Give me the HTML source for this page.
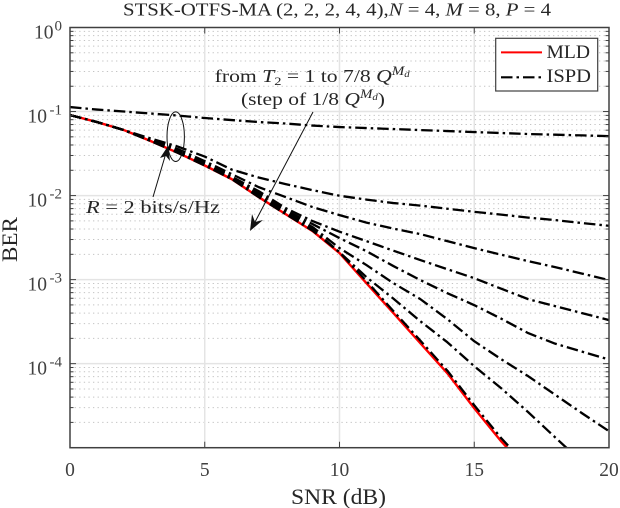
<!DOCTYPE html>
<html>
<head>
<meta charset="utf-8">
<title>STSK-OTFS-MA BER chart</title>
<style>
html,body{margin:0;padding:0;background:#fff;}
svg{display:block;font-family:"Liberation Serif",serif;}
text{fill:#262626;}
.tick{fill:#404040;font-size:19.5px;}
.it{font-style:italic;}
</style>
</head>
<body>
<svg id="chart" width="620" height="508" viewBox="0 0 620 508" xmlns="http://www.w3.org/2000/svg">
  <defs>
    <clipPath id="plot-clip"><rect x="70" y="27.5" width="539" height="420.2"></rect></clipPath>
  </defs>
  <rect x="0" y="0" width="620" height="508" fill="#fff"></rect>
  <g id="grid"></g>
  <g id="series" clip-path="url(#plot-clip)"></g>
  <g id="axes"></g>

  <text x="123" y="15.5" font-size="17.5" textLength="428" lengthAdjust="spacingAndGlyphs">STSK-OTFS-MA (2, 2, 2, 4, 4),<tspan class="it">N</tspan> = 4, <tspan class="it">M</tspan> = 8, <tspan class="it">P</tspan> = 4</text>
  <text x="291" y="504" font-size="22" textLength="95" lengthAdjust="spacingAndGlyphs">SNR (dB)</text>
  <text transform="translate(17 262) rotate(-90)" font-size="22" textLength="45" lengthAdjust="spacingAndGlyphs">BER</text>

  <ellipse cx="175.7" cy="136.7" rx="8.7" ry="24.8" fill="none" stroke="#111" stroke-width="1"></ellipse>
  <line x1="313" y1="112" x2="254" y2="224" stroke="#111" stroke-width="1"></line>
  <path d="M250 231 L252 214 L255 222 L263 220 Z" fill="#111"></path>
  <line x1="153" y1="197" x2="166" y2="153" stroke="#111" stroke-width="1"></line>
  <path d="M168 146 L170 161 L166 156 L160 158 Z" fill="#111"></path>

  <text x="214.7" y="82" font-size="18" textLength="195" lengthAdjust="spacingAndGlyphs">from <tspan class="it">T</tspan><tspan font-size="12" dy="3">2</tspan><tspan dy="-3"> = 1 to 7/8 </tspan><tspan class="it">Q</tspan><tspan class="it" font-size="12.5" dy="-7">M</tspan><tspan class="it" font-size="9" dy="2">d</tspan></text>
  <text x="241" y="105" font-size="18" textLength="144" lengthAdjust="spacingAndGlyphs">(step of 1/8 <tspan class="it">Q</tspan><tspan class="it" font-size="12.5" dy="-7">M</tspan><tspan class="it" font-size="9" dy="2">d</tspan><tspan dy="5">)</tspan></text>
  <text x="86" y="213" font-size="18" textLength="134" lengthAdjust="spacingAndGlyphs"><tspan class="it">R</tspan> = 2 bits/s/Hz</text>

  <g>
    <rect x="495.7" y="38.3" width="102" height="52.7" fill="#fff" stroke="#404040" stroke-width="1.2"></rect>
    <line x1="501" y1="52.4" x2="542" y2="52.4" stroke="#f00" stroke-width="2"></line>
    <text x="546.5" y="58" font-size="19" textLength="43.5" lengthAdjust="spacingAndGlyphs">MLD</text>
    <line x1="501" y1="77.3" x2="542" y2="77.3" stroke="#000" stroke-width="2.2" stroke-dasharray="11.5 4 2.5 4"></line>
    <text x="546.5" y="82" font-size="19" textLength="44.5" lengthAdjust="spacingAndGlyphs">ISPD</text>
  </g>
</svg>
<script>
const snr = [0,1,2,3,4,5,6,7,8,9,10,11,12,13,14,15,16,17,18,19,20];
const mld = [.0908,.075,.0602,.0445,.0323,.0228,.0157,.0096,.00602,.00378,.00207,9.08e-4,4.0e-4,1.75e-4,7.71e-5,2.95e-5,1.19e-5,5.4e-6];
const ispd1 = [.113,.1056,.1,.0947,.0896,.0837,.0792,.075,.072,.0681,.0654,.0636,.0619,.0602,.0586,.057,.0555,.054,.053,.052,.051];
const ispd2 = [.0908,.075,.0602,.0477,.0383,.0291,.0204,.0164,.0137,.0116,.00995,.00896,.00815,.0076,.00697,.00641,.00594,.00547,.00511,.00471,.00437];
const ispd3 = [.0908,.075,.0602,.0458,.0358,.0257,.018,.0126,.0096,.0073,.00586,.00477,.00405,.00348,.00287,.00237,.00198,.00166,.00141,.00118,9.87e-4];
const ispd4 = [.0908,.075,.0602,.0452,.0339,.0244,.0168,.0113,.0071,.00497,.00372,.00287,.00221,.00171,.00133,.00104,7.8e-4,5.86e-4,4.84e-4,3.99e-4,3.3e-4];
const ispd5 = [.0908,.075,.0602,.0449,.033,.0237,.0164,.0106,.00671,.00458,.00312,.00218,.00145,9.87e-4,6.9e-4,4.97e-4,3.43e-4,2.31e-4,1.73e-4,1.39e-4,1.12e-4];
const ispd6 = [.0908,.075,.0602,.0447,.0327,.0234,.0162,.0103,.00645,.00422,.00237,.00149,9.08e-4,5.86e-4,3.39e-4,1.85e-4,1.13e-4,7.1e-5,4.27e-5,2.57e-5,1.57e-5];
const ispd7 = [.0908,.075,.0602,.0445,.0325,.0231,.0159,.00986,.00619,.00399,.00212,.00107,5.94e-4,3.2e-4,1.8e-4,9.33e-5,5.1e-5,2.65e-5,1.33e-5,6.7e-6,3.4e-6];
const ispd8 = [.0908,.075,.0602,.0445,.0323,.0228,.0157,.0096,.00602,.00383,.00212,9.6e-4,4.22e-4,1.88e-4,8.26e-5,3.2e-5,1.3e-5,5.86e-6];
const ispdSeries = [ispd1, ispd2, ispd3, ispd4, ispd5, ispd6, ispd7, ispd8];
const xTickValues = [0,5,10,15,20];
const xTickLabels = ["0","5","10","15","20"];
const yTickExponents = [0,-1,-2,-3,-4];
const yTickLabels = ["0","-1","-2","-3","-4"];
const minorMultipliers = [2,3,4,5,6,7,8,9];

const NS = "http://www.w3.org/2000/svg";
const L = 70, R = 609, T = 27.5, B = 447.7;
const xScale = s => L + (s - 0) / 20 * (R - L);
const yScale = v => T - Math.log10(v) * (B - T) / 5;
function make(tag, attrs, parent) {
  const el = document.createElementNS(NS, tag);
  for (const k in attrs) el.setAttribute(k, attrs[k]);
  parent.appendChild(el);
  return el;
}
const gridG = document.getElementById("grid");
const axesG = document.getElementById("axes");
const seriesG = document.getElementById("series");

/* grid */
for (const e of [...yTickExponents, -5]) {
  const y0 = yScale(Math.pow(10, e));
  if (e > -5 && e < 0) {
    const g = make("line", {x1: L, x2: R, y1: y0, y2: y0, stroke: "#e4e4e4", "stroke-width": 1.5}, gridG);
    
    
  }
  if (e > -5) {
    for (const m of minorMultipliers) {
      const y = yScale(m * Math.pow(10, e - 1));
      const mg = make("line", {x1: L, x2: R, y1: y, y2: y, stroke: "#c4c4c4", "stroke-width": 1, "stroke-dasharray": "1.3 3.3"}, gridG);
      
      
      const t1 = make("line", {x1: L, x2: L + 3.5, y1: y, y2: y, stroke: "#404040", "stroke-width": 1}, axesG);
      
      
      const t2 = make("line", {x1: R, x2: R - 3.5, y1: y, y2: y, stroke: "#404040", "stroke-width": 1}, axesG);
      
      
    }
  }
}
xTickValues.forEach((s, i) => {
  const x = xScale(s);
  if (i > 0 && i < xTickValues.length - 1) {
    const g = make("line", {x1: x, x2: x, y1: T, y2: B, stroke: "#e4e4e4", "stroke-width": 1.5}, gridG);
    
    
    const t1 = make("line", {x1: x, x2: x, y1: B, y2: B - 6, stroke: "#404040", "stroke-width": 1}, axesG);
    
    
    const t2 = make("line", {x1: x, x2: x, y1: T, y2: T + 6, stroke: "#404040", "stroke-width": 1}, axesG);
    
    
  }
  const lab = make("text", {x: x, y: 476, "text-anchor": "middle", class: "tick"}, axesG);
  
  
  lab.textContent = xTickLabels[i];
});
yTickExponents.forEach((e, i) => {
  const y = yScale(Math.pow(10, e));
  const t1 = make("line", {x1: L, x2: L + 6, y1: y, y2: y, stroke: "#404040", "stroke-width": 1}, axesG);
  
  
  const t2 = make("line", {x1: R, x2: R - 6, y1: y, y2: y, stroke: "#404040", "stroke-width": 1}, axesG);
  
  
  const sup = yTickLabels[i];
  const supW = sup.length > 1 ? 15 : 8.5;
  const base = make("text", {x: 62 - supW, y: y + 11, "text-anchor": "end", class: "tick"}, axesG);
  
  
  base.textContent = "10";
  const exp = make("text", {x: 62, y: y + 3, "text-anchor": "end", class: "tick"}, axesG);
  
  
  exp.style.fontSize = "15px";
  exp.textContent = sup;
});

/* series */
function pointsFor(values) {
  return values.map((v, i) => xScale(snr[i]).toFixed(2) + "," + yScale(v).toFixed(2)).join(" ");
}
const mldLine = make("polyline", {points: pointsFor(mld), fill: "none", stroke: "#f00", "stroke-width": 2.4, "stroke-linejoin": "round"}, seriesG);


ispdSeries.forEach((values, i) => {
  const line = make("polyline", {points: pointsFor(values), fill: "none", stroke: "#000", "stroke-width": 2.3, "stroke-dasharray": "11.5 4 2.5 4", "stroke-linejoin": "round"}, seriesG);
  
  
});

/* axes box */
const box = make("rect", {x: L, y: T, width: R - L, height: B - T, fill: "none", stroke: "#404040", "stroke-width": 1.5}, axesG);


</script>
</body>
</html>
